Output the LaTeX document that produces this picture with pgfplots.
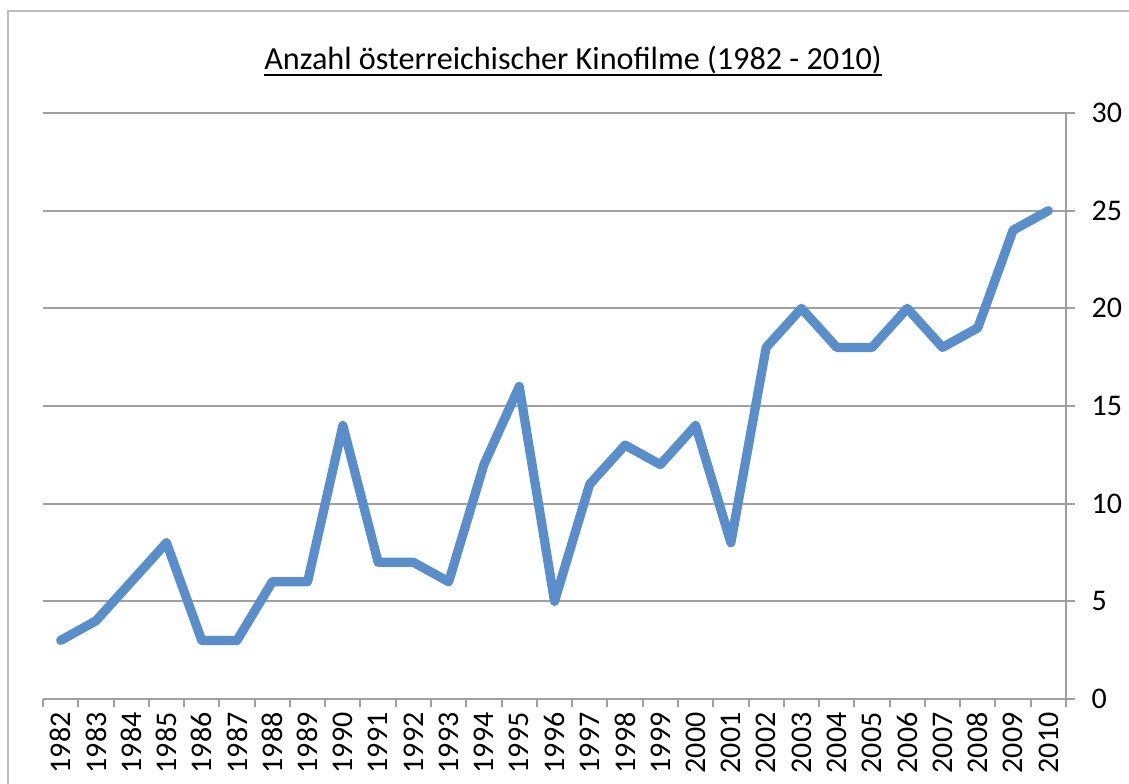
\documentclass[border=0pt]{standalone}
\usepackage{fontspec}
\setmainfont{Carlito}
\usepackage{pgfplots}
\pgfplotsset{compat=1.18}
\definecolor{linec}{RGB}{89,142,203}
\definecolor{gridc}{RGB}{160,160,160}
\begin{document}
\begin{tikzpicture}
\useasboundingbox (0,0) rectangle (564.5pt,391.5pt);
\draw[gridc!70, line width=1pt] (4pt,-30pt) rectangle (600pt,386pt);
\node[anchor=base, inner sep=0pt] (t) at (286.5pt,356.5pt) {\fontsize{16.1}{19}\selectfont Anzahl österreichischer Kinofilme (1982 - 2010)};
\draw[line width=1.3pt] ([yshift=-2.6pt]t.base west) -- ([yshift=-2.6pt]t.base east);
\begin{axis}[
  at={(21.5pt,42pt)}, anchor=south west,
  scale only axis, width=511.5pt, height=293pt,
  xmin=-0.5, xmax=28.5, ymin=0, ymax=30,
  axis x line*=bottom, axis y line*=right,
  axis line style={gridc, line width=1pt},
  ytick={0,5,...,30},
  xtick={0,...,28},
  xticklabels={1982,1983,1984,1985,1986,1987,1988,1989,1990,1991,1992,1993,1994,1995,1996,1997,1998,1999,2000,2001,2002,2003,2004,2005,2006,2007,2008,2009,2010},
  minor xtick={-0.5,0.5,...,28.5},
  major x tick style={draw=none},
  minor x tick style={gridc, line width=1pt},
  y tick style={gridc, line width=1pt},
  tick align=outside,
  major tick length=4.5pt, minor tick length=4pt,
  ymajorgrids, grid style={gridc, line width=1pt},
  xticklabel style={rotate=90, anchor=east, font=\fontsize{15}{18}\selectfont, xshift=-1pt, inner sep=1pt},
  yticklabel style={font=\fontsize{15}{18}\selectfont, anchor=west, xshift=4.8pt},
  /pgf/number format/assume math mode=true,
  clip=false,
]
\addplot[linec, line width=4.6pt, line join=round, line cap=round] coordinates {
(0,3) (1,4) (2,6) (3,8) (4,3) (5,3) (6,6) (7,6) (8,14) (9,7) (10,7) (11,6) (12,12) (13,16) (14,5) (15,11) (16,13) (17,12) (18,14) (19,8) (20,18) (21,20) (22,18) (23,18) (24,20) (25,18) (26,19) (27,24) (28,25)
};
\end{axis}
\end{tikzpicture}
\end{document}
